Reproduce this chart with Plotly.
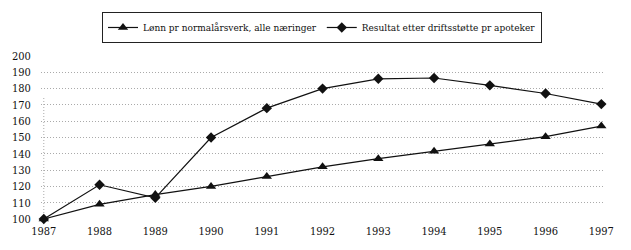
import plotly.graph_objects as go

years = [1987, 1988, 1989, 1990, 1991, 1992, 1993, 1994, 1995, 1996, 1997]
lonn = [100, 109, 115, 120, 126, 132, 137, 141.5, 146, 150.5, 157]
resultat = [100, 121, 113, 150, 168, 180, 186, 186.5, 182, 177, 170.5]
name_lonn = "Lønn pr normalårsverk, alle næringer"
name_res = "Resultat etter driftsstøtte pr apoteker"
y_ticks = [100, 110, 120, 130, 140, 150, 160, 170, 180, 190, 200]

FONT = "DejaVu Serif Condensed, DejaVu Serif"

fig = go.Figure()
fig.add_trace(go.Scatter(
    x=years, y=lonn, name=name_lonn, mode="lines+markers",
    line=dict(color="#111111", width=1.2),
    marker=dict(symbol="triangle-up", size=9, color="#111111"),
    cliponaxis=False,
))
fig.add_trace(go.Scatter(
    x=years, y=resultat, name=name_res, mode="lines+markers",
    line=dict(color="#111111", width=1.2),
    marker=dict(symbol="diamond", size=8, color="#111111"),
    cliponaxis=False,
))

fig.add_shape(type="line", xref="x", yref="y",
              x0=years[0], x1=years[0], y0=y_ticks[0], y1=175,
              line=dict(color="#aaaaaa", width=1, dash="1px,2px"), layer="below")

fig.update_layout(
    width=631, height=250,
    margin=dict(l=35, r=28, t=52, b=27),
    paper_bgcolor="white", plot_bgcolor="white",
    font=dict(family=FONT, color="#111111", size=11),
    showlegend=True,
    legend=dict(
        orientation="h", x=0.5, xanchor="center", y=1.27, yanchor="top",
        bordercolor="#222222", borderwidth=1, bgcolor="white",
        font=dict(family=FONT, size=10, color="#111111"),
        itemwidth=30, tracegroupgap=0,
    ),
    xaxis=dict(
        range=[1986.95, 1997.03], tickvals=years, ticktext=[str(y) for y in years],
        showgrid=False, zeroline=False, showline=False,
        ticks="outside", ticklen=2, tickcolor="rgba(0,0,0,0)",
        tickfont=dict(family=FONT, size=11),
    ),
    yaxis=dict(
        range=[100, 200], tickvals=y_ticks,
        showgrid=True, gridcolor="#aaaaaa", griddash="1px,2px", gridwidth=1,
        zeroline=False, showline=False,
        ticks="outside", ticklen=7, tickcolor="rgba(0,0,0,0)",
        tickfont=dict(family=FONT, size=11),
    ),
)

fig.write_html("out.html")
